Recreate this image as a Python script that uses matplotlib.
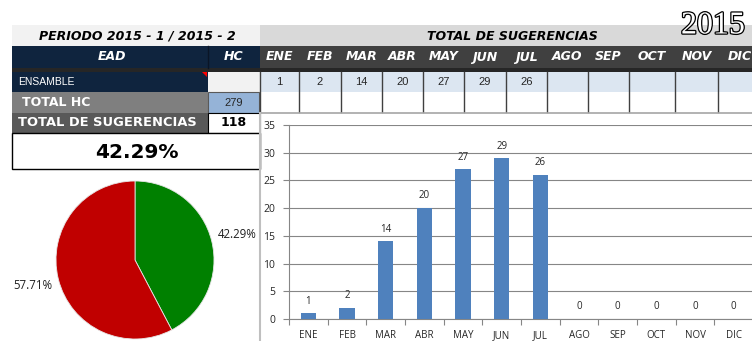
import numpy as np
import matplotlib
matplotlib.use('Agg')
import matplotlib.pyplot as plt
from matplotlib.patches import Rectangle, Polygon
import matplotlib.patheffects as pe

# datos del reporte
anio = '2015'
periodo = 'PERIODO 2015 - 1 / 2015 - 2'
meses = ['ENE', 'FEB', 'MAR', 'ABR', 'MAY', 'JUN', 'JUL', 'AGO', 'SEP', 'OCT', 'NOV', 'DIC']
sugerencias = [1, 2, 14, 20, 27, 29, 26, None, None, None, None, None]
ead = 'ENSAMBLE'
total_hc = 279
total_sug = 118

pct = total_sug / total_hc * 100
valores_barras = [v if v is not None else 0 for v in sugerencias]

# bordes de las celdas de los meses (px)
bordes = [260, 299, 341, 382, 423, 464, 506, 547, 588, 629, 675, 718, 762]

W, H = 752, 341
fig = plt.figure(figsize=(W / 100, H / 100), dpi=100)
bg = fig.add_axes([0, 0, 1, 1])
bg.set_xlim(0, W)
bg.set_ylim(H, 0)
bg.axis('off')

hdr = dict(fontfamily='DejaVu Sans', fontweight='bold', fontstyle='italic')
narrow = ['Liberation Sans Narrow', 'Liberation Sans', 'DejaVu Sans']


def caja(x, y, w, h, fc, ec='none', lw=0.8, z=1):
    bg.add_patch(Rectangle((x, y), w, h, facecolor=fc, edgecolor=ec, linewidth=lw, zorder=z))


# fila 1: titulos
caja(12, 25, 248, 21, '#f2f2f2')
caja(260, 25, 492, 21, '#d9d9d9')
bg.text(137, 36, periodo, ha='center', va='center', fontsize=9, color='black', **hdr)
bg.text(512, 36, 'TOTAL DE SUGERENCIAS', ha='center', va='center', fontsize=9, color='black', **hdr)
bg.text(681, 26, anio, ha='left', va='center', fontsize=23, fontfamily='Liberation Serif',
        color='white', zorder=5,
        path_effects=[pe.withStroke(linewidth=1.8, foreground='black')])

# fila 2: encabezados
caja(12, 46, 196, 22, '#0f243e')
caja(208, 46, 52, 22, '#0f243e')
bg.plot([208, 208], [46, 68], color='#0a1526', lw=1)
caja(260, 46, 492, 22, '#404040')
bg.text(112, 57, 'EAD', ha='center', va='center', fontsize=9, color='white', **hdr)
bg.text(234, 57, 'HC', ha='center', va='center', fontsize=9, color='white', **hdr)
for i, m in enumerate(meses):
    xc = (bordes[i] + bordes[i + 1]) / 2
    bg.text(xc, 57, m, ha='center', va='center', fontsize=9, color='white', **hdr)
caja(12, 68, 740, 4, '#262626')

# fila 3: EAD
caja(12, 72, 196, 20, '#0f243e')
bg.add_patch(Polygon([[202, 72], [207, 72], [207, 77]], closed=True, facecolor='#ff0000', zorder=3))
caja(208, 72, 52, 20, '#f2f2f2')
bg.text(18, 82, ead, ha='left', va='center', fontsize=7.5, color='white', family=narrow)

# fila 4 y 5: totales
caja(12, 92, 196, 21, '#7f7f7f')
caja(208, 92, 51, 21, '#95b3d7', ec='#595959')
bg.text(22, 102.5, 'TOTAL HC', ha='left', va='center', fontsize=9, color='white',
        fontfamily='DejaVu Sans', fontweight='bold')
bg.text(234, 102.5, str(total_hc), ha='center', va='center', fontsize=8, color='#262626', family=narrow)

caja(12, 113, 196, 20, '#595959')
caja(208, 113, 52, 20, 'white', ec='black')
bg.text(18, 123, 'TOTAL DE SUGERENCIAS', ha='left', va='center', fontsize=9.4, color='white',
        fontfamily='DejaVu Sans', fontweight='bold')
bg.text(234, 123, str(total_sug), ha='center', va='center', fontsize=9, color='black',
        fontfamily='DejaVu Sans', fontweight='bold')

# porcentaje
caja(12, 133, 248, 36, 'white', ec='black', lw=1)
bg.text(137, 153, f'{pct:.2f}%', ha='center', va='center', fontsize=14.5, color='black',
        fontfamily='DejaVu Sans', fontweight='bold')

# tabla de meses
caja(260, 72, 492, 20, '#dce6f1')
for i, v in enumerate(sugerencias):
    if v is not None:
        xc = (bordes[i] + bordes[i + 1]) / 2
        bg.text(xc, 82, str(v), ha='center', va='center', fontsize=8, color='#262626', family=narrow)
for b in bordes[:-1]:
    bg.plot([b, b], [72, 112], color='#404040', lw=1, zorder=3)
bg.plot([260, 752], [113, 113], color='#a6a6a6', lw=1.2, zorder=3)
bg.plot([260, 260], [113, 341], color='#bfbfbf', lw=1.5, zorder=3)

# grafico de barras
ax = fig.add_axes([289 / W, (H - 319) / H, 464 / W, 194 / H])
x = np.arange(len(meses))
ax.bar(x, valores_barras, width=0.4, color='#4f81bd', zorder=3)
for xi, v in zip(x, valores_barras):
    ax.text(xi, v + 1.2, str(v), ha='center', va='bottom', fontsize=7,
            color='#262626', fontfamily='Open Sans')
ax.set_xlim(-0.5, len(meses) - 0.5)
ax.set_ylim(0, 35)
ax.set_yticks(range(0, 36, 5))
ax.set_xticks(x)
ax.set_xticklabels(meses, fontsize=7, fontfamily='Open Sans', color='#262626')
ax.set_xticks(np.arange(-0.5, len(meses), 1), minor=True)
ax.tick_params(axis='x', which='major', length=0, pad=8)
ax.tick_params(axis='x', which='minor', length=4, color='#868686', width=0.8)
ax.tick_params(axis='y', length=4, color='#868686', width=0.8, pad=6, labelsize=7.5, labelcolor='#262626')
for lab in ax.get_yticklabels():
    lab.set_fontfamily('Open Sans')
ax.grid(axis='y', color='#868686', linewidth=0.8, zorder=0)
for s in ['top', 'right']:
    ax.spines[s].set_visible(False)
for s in ['left', 'bottom']:
    ax.spines[s].set_color('#868686')
    ax.spines[s].set_linewidth(0.8)
ax.set_facecolor('none')

# grafico circular
pax = fig.add_axes([56 / W, (H - 339) / H, 158 / W, 158 / H])
pax.pie([total_sug, total_hc - total_sug], colors=['#008000', '#c00000'],
        startangle=90, counterclock=False, autopct='%.2f%%', pctdistance=1.33,
        wedgeprops=dict(edgecolor='#e6e6e6', linewidth=0.6),
        textprops=dict(fontsize=8.3, color='#1f1f1f', fontfamily='Open Sans'))
pax.set_xlim(-1, 1)
pax.set_ylim(-1, 1)
pax.set_aspect('equal')

fig.savefig('out.png', dpi=100)
